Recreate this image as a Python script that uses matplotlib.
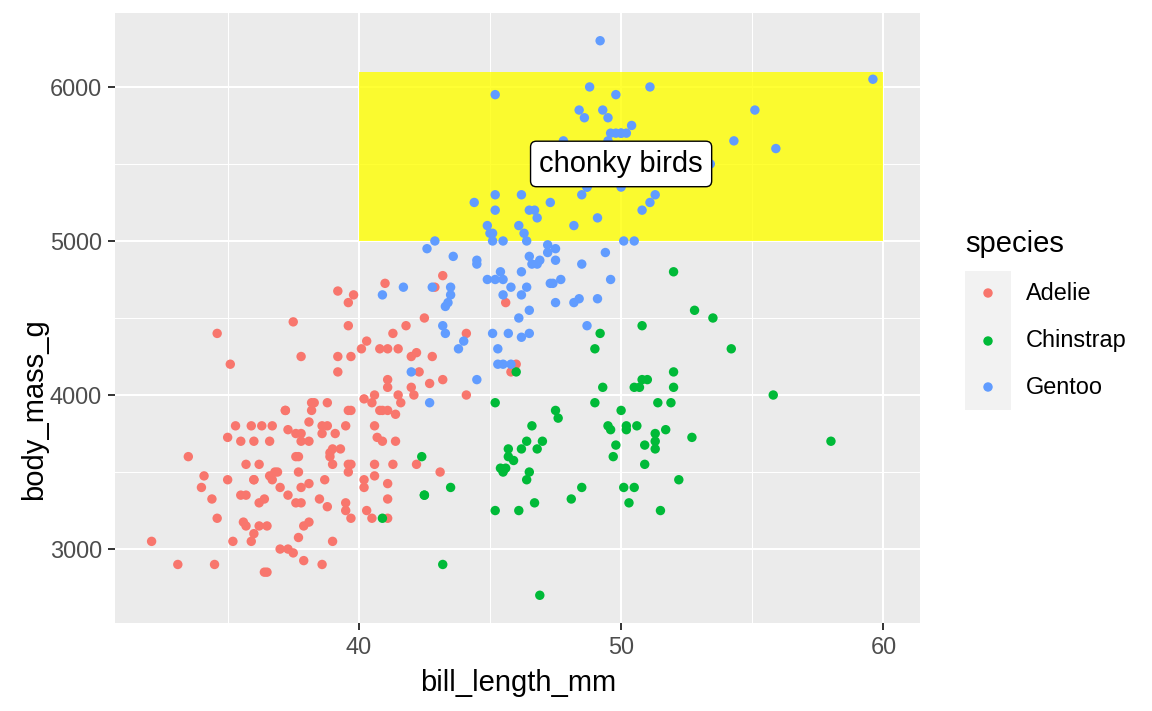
import matplotlib
matplotlib.use('Agg')
import matplotlib.pyplot as plt
from matplotlib.patches import Rectangle
import numpy as np

plt.rcParams['font.family'] = ['Liberation Sans', 'DejaVu Sans']

# palmer penguins: bill_length_mm, body_mass_g
adelie_bill = [39.1, 39.5, 40.3, 36.7, 39.3, 38.9, 39.2, 34.1, 42.0, 37.8, 37.8, 41.1, 38.6, 34.6,
               36.6, 38.7, 42.5, 34.4, 46.0, 37.8, 37.7, 35.9, 38.2, 38.8, 35.3, 40.6, 40.5, 37.9,
               40.5, 39.5, 37.2, 39.5, 40.9, 36.4, 39.2, 38.8, 42.2, 37.6, 39.8, 36.5, 40.8, 36.0,
               44.1, 37.0, 39.6, 41.1, 37.5, 36.0, 42.3, 39.6, 40.1, 35.0, 42.0, 34.5, 41.4, 39.0,
               40.6, 36.5, 37.6, 35.7, 41.3, 37.6, 41.1, 36.4, 41.6, 35.5, 41.1, 35.9, 41.8, 33.5,
               39.7, 39.6, 45.8, 35.5, 42.8, 40.9, 37.2, 36.2, 42.1, 34.6, 42.9, 36.7, 35.1, 37.3,
               41.3, 36.3, 36.9, 38.3, 38.9, 35.7, 41.1, 34.0, 39.6, 36.2, 40.8, 38.1, 40.3, 33.1,
               43.2, 35.0, 41.0, 37.7, 37.8, 37.9, 39.7, 38.6, 38.2, 38.1, 43.2, 38.1, 45.6, 39.7,
               42.2, 39.6, 42.7, 38.6, 37.3, 35.7, 41.1, 36.2, 37.7, 40.2, 41.4, 35.2, 40.6, 38.8,
               41.5, 39.0, 44.1, 38.5, 43.1, 36.8, 37.5, 38.1, 41.1, 35.6, 40.2, 37.0, 39.7, 40.2,
               40.6, 32.1, 40.7, 37.3, 39.0, 39.2, 36.6, 36.0, 37.8, 36.0, 41.5]
adelie_mass = [3750, 3800, 3250, 3450, 3650, 3625, 4675, 3475, 4250, 3300, 3700, 3200, 3800, 4400,
               3700, 3450, 4500, 3325, 4200, 3400, 3600, 3800, 3950, 3800, 3800, 3550, 3200, 3150,
               3950, 3250, 3900, 3300, 3900, 3325, 4150, 3950, 3550, 3300, 4650, 3150, 3900, 3100,
               4400, 3000, 4600, 3425, 2975, 3450, 4150, 3500, 4300, 3450, 4050, 2900, 3700, 3550,
               3800, 2850, 3750, 3150, 4400, 3600, 4050, 2850, 3950, 3350, 4100, 3050, 4450, 3600,
               3900, 3550, 4150, 3700, 4250, 3700, 3900, 3550, 4000, 3200, 4700, 3800, 4200, 3350,
               3550, 3800, 3500, 3950, 3600, 3550, 4300, 3400, 4450, 3300, 4300, 3700, 4350, 2900,
               4100, 3725, 4725, 3075, 4250, 2925, 3550, 3750, 3900, 3175, 4775, 3825, 4600, 3200,
               4275, 3900, 4075, 2900, 3775, 3350, 3325, 3150, 3500, 3450, 3875, 3050, 4000, 3275,
               4300, 3050, 4000, 3325, 3500, 3500, 4475, 3425, 3900, 3175, 3975, 3400, 4250, 3400,
               3475, 3050, 3725, 3000, 3650, 4250, 3475, 3450, 3750, 3700, 4000]

chinstrap_bill = [46.5, 50.0, 51.3, 45.4, 52.7, 45.2, 46.1, 51.3, 46.0, 51.3, 46.6, 51.7, 47.0, 52.0,
                  45.9, 50.5, 50.3, 58.0, 46.4, 49.2, 42.4, 48.5, 43.2, 50.6, 46.7, 52.0, 50.5, 49.5,
                  46.4, 52.8, 40.9, 54.2, 42.5, 51.0, 49.7, 47.5, 47.6, 52.0, 46.9, 53.5, 49.0, 46.2,
                  50.9, 45.5, 50.9, 50.8, 50.1, 49.0, 51.5, 49.8, 48.1, 51.4, 45.7, 50.7, 42.5, 52.2,
                  45.2, 49.3, 50.2, 45.6, 51.9, 46.8, 45.7, 55.8, 43.5, 49.6, 50.8, 50.2]
chinstrap_mass = [3500, 3900, 3650, 3525, 3725, 3950, 3250, 3750, 4150, 3700, 3800, 3775, 3700, 4050,
                  3575, 4050, 3300, 3700, 3450, 4400, 3600, 3400, 2900, 3800, 3300, 4150, 3400, 3800,
                  3700, 4550, 3200, 4300, 3350, 4100, 3600, 3900, 3850, 4800, 2700, 4500, 3950, 3650,
                  3550, 3500, 3675, 4450, 3400, 4300, 3250, 3675, 3325, 3950, 3600, 4050, 3350, 3450,
                  3250, 4050, 3800, 3525, 3950, 3650, 3650, 4000, 3400, 3775, 4100, 3775]

gentoo_bill = [46.1, 50.0, 48.7, 50.0, 47.6, 46.5, 45.4, 46.7, 43.3, 46.8, 40.9, 49.0, 45.5, 48.4,
               45.8, 49.3, 42.0, 49.2, 46.2, 48.7, 50.2, 45.1, 46.5, 46.3, 42.9, 46.1, 44.5, 47.8,
               48.2, 50.0, 47.3, 42.8, 45.1, 59.6, 49.1, 48.4, 42.6, 44.4, 44.0, 48.7, 42.7, 49.6,
               45.3, 49.6, 50.5, 43.6, 45.5, 50.5, 44.9, 45.2, 46.6, 48.5, 45.1, 50.1, 46.5, 45.0,
               43.8, 45.5, 43.2, 50.4, 45.3, 46.2, 45.7, 54.3, 45.8, 49.8, 46.2, 49.5, 43.5, 50.7,
               47.7, 46.4, 48.2, 46.5, 46.4, 48.6, 47.5, 51.1, 45.2, 45.2, 49.1, 52.5, 47.4, 50.0,
               44.9, 50.8, 43.4, 51.3, 47.5, 52.1, 47.5, 52.2, 45.5, 49.5, 44.5, 50.8, 49.4, 46.9,
               48.4, 51.1, 48.5, 55.9, 47.2, 49.1, 47.3, 46.8, 41.7, 53.4, 43.3, 48.1, 50.5, 49.8,
               43.5, 51.5, 46.2, 55.1, 44.5, 48.8, 47.2, 46.8, 50.4, 45.2, 49.9]
gentoo_mass = [4500, 5700, 4450, 5700, 5400, 4550, 4800, 5200, 4400, 5150, 4650, 5550, 4650, 5850,
               4200, 5850, 4150, 6300, 4800, 5350, 5700, 5000, 4400, 5050, 5000, 5100, 4100, 5650,
               4600, 5550, 5250, 4700, 5050, 6050, 5150, 5400, 4950, 5250, 4350, 5350, 3950, 5700,
               4300, 4750, 5550, 4900, 4200, 5400, 5100, 5300, 4850, 5300, 4400, 5000, 4900, 5050,
               4300, 5000, 4450, 5550, 4200, 5300, 4400, 5650, 4700, 5700, 4650, 5800, 4700, 5550,
               4750, 5000, 5100, 5200, 4700, 5800, 4600, 6000, 4750, 5950, 4625, 5450, 4725, 5350,
               4750, 5600, 4600, 5300, 4875, 5550, 4950, 5400, 4750, 5650, 4850, 5200, 4925, 4875,
               4625, 5250, 4850, 5600, 4975, 5500, 4725, 5500, 4700, 5500, 4575, 5500, 5000, 5950,
               4650, 5500, 4375, 5850, 4875, 6000, 4925, 4850, 5750, 5200, 5400]

species = ['Adelie', 'Chinstrap', 'Gentoo']
colors = ['#F8766D', '#00BA38', '#619CFF']
series = [(adelie_bill, adelie_mass), (chinstrap_bill, chinstrap_mass), (gentoo_bill, gentoo_mass)]

rect_x = (40, 60)
rect_y = (5000, 6100)
label_text = 'chonky birds'
label_pos = (50, 5500)

big = 21
small = 16.9
pt_size = 46

fig = plt.figure(figsize=(11.52, 7.11), dpi=100)
ax = fig.add_axes([115/1152, 1 - 623/711, (920-115)/1152, (623-13)/711])
ax.set_facecolor('#EBEBEB')
for s in ax.spines.values():
    s.set_visible(False)

ax.set_xlim(30.705, 61.395)
ax.set_ylim(2520, 6480)
ax.set_xticks([40, 50, 60])
ax.set_yticks([3000, 4000, 5000, 6000])
ax.set_xticks([35, 45, 55], minor=True)
ax.set_yticks([3500, 4500, 5500], minor=True)
ax.grid(which='major', color='white', lw=1.5, zorder=0)
ax.grid(which='minor', color='white', lw=0.75, zorder=0)
ax.set_axisbelow(True)
ax.tick_params(which='major', length=5.3, width=1.4, color='#333333', labelsize=small,
               labelcolor='#4D4D4D', pad=4)
ax.tick_params(which='minor', length=0)

ax.add_patch(Rectangle((rect_x[0], rect_y[0]), rect_x[1]-rect_x[0], rect_y[1]-rect_y[0],
                       facecolor='yellow', alpha=0.8, edgecolor='none', zorder=1))

for (bx, by), c in zip(series, colors):
    ax.scatter(bx, by, s=pt_size, color=c, edgecolors='none', zorder=2)

ax.text(label_pos[0], label_pos[1], label_text, fontsize=big, ha='center', va='center', zorder=3,
        bbox=dict(boxstyle='round,pad=0.3,rounding_size=0.2', facecolor='white',
                  edgecolor='black', lw=1))

# axis titles, placed like ggplot
fig.text(518/1152, 1 - 691/711, 'bill_length_mm', fontsize=big, ha='center', va='baseline')
fig.text(34/1152, 1 - 318/711, 'body_mass_g', fontsize=big, ha='right', va='center',
         rotation=90, rotation_mode='anchor')

# legend drawn by hand, ggplot style
lax = fig.add_axes([0, 0, 1, 1])
lax.set_xlim(0, 1152)
lax.set_ylim(711, 0)
lax.axis('off')
lax.text(965, 252, 'species', fontsize=big, ha='left', va='baseline')
lax.add_patch(Rectangle((965, 271), 46, 139, facecolor='#F2F2F2', edgecolor='none'))
key_y = [293, 341, 387]
for sp, c, yy in zip(species, colors, key_y):
    lax.scatter([988], [yy], s=pt_size, color=c, edgecolors='none')
    lax.text(1026, yy, sp, fontsize=small, ha='left', va='center')

fig.savefig('out.png', dpi=100)
